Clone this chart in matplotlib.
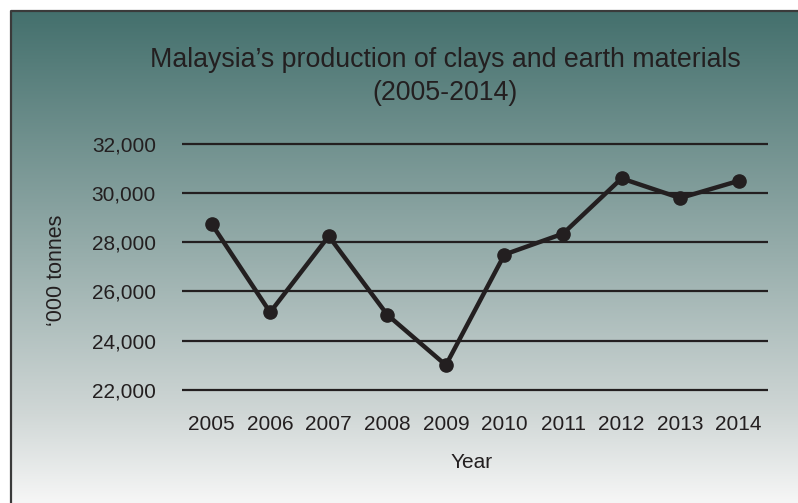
import numpy as np
import matplotlib
matplotlib.use("Agg")
import matplotlib.pyplot as plt
from matplotlib.colors import LinearSegmentedColormap

# Production of clays and earth materials, thousand tonnes
years = ["2005", "2006", "2007", "2008", "2009", "2010", "2011", "2012", "2013", "2014"]
production = [28750, 25150, 28250, 25050, 23000, 27500, 28350, 30600, 29800, 30500]
y_ticks = [22000, 24000, 26000, 28000, 30000, 32000]

title_lines = ["Malaysia\u2019s production of clays and earth materials", "(2005-2014)"]
x_label = "Year"
y_label = "\u2018000 tonnes"

ink = "#231f20"
plt.rcParams["font.family"] = ["Liberation Sans", "DejaVu Sans"]

W, H = 798, 503
fig = plt.figure(figsize=(W / 100, H / 100), dpi=100)
fig.patch.set_facecolor("white")

# gradient panel behind everything
bg = fig.add_axes([0, 0, 1, 1], zorder=-10)
bg.set_xlim(0, W)
bg.set_ylim(H, 0)
bg.axis("off")
grad = np.linspace(0, 1, 256).reshape(-1, 1)
cmap = LinearSegmentedColormap.from_list(
    "teal_fade", [(0.0, "#44706d"), (0.5, "#98aeac"), (0.82, "#d0d7d6"), (1.0, "#f6f6f6")])
x0, y0 = 11, 11
bg.imshow(grad, cmap=cmap, aspect="auto", extent=(x0, W, H, y0), interpolation="bicubic")
bg.plot([x0, x0, W], [H, y0, y0], color="#3a3a3a", lw=1.6, solid_capstyle="butt")

# main plot area
ax_left, ax_right = 182.3, 768.0
ax_top, ax_bottom = 144.0, 389.7
ax = fig.add_axes([ax_left / W, 1 - ax_bottom / H, (ax_right - ax_left) / W, (ax_bottom - ax_top) / H])
ax.patch.set_alpha(0)
x = np.arange(len(years))
ax.set_xlim(-0.5, len(years) - 0.5)
ax.set_ylim(y_ticks[0], y_ticks[-1])
for s in ax.spines.values():
    s.set_visible(False)

ax.hlines(y_ticks, -0.5, len(years) - 0.5, colors=ink, lw=1.6, clip_on=False, zorder=1)
ax.plot(x, production, color=ink, lw=3.2, marker="o", markersize=9.5,
        markerfacecolor=ink, markeredgecolor=ink, zorder=3, clip_on=False)

ax.set_xticks(x)
ax.set_xticklabels(years)
ax.set_yticks(y_ticks)
ax.set_yticklabels([f"{v:,}" for v in y_ticks])
ax.tick_params(axis="both", length=0, labelsize=15, labelcolor=ink)
ax.tick_params(axis="x", pad=18)
ax.tick_params(axis="y", pad=19)

fig.text(472 / W, 1 - 463 / H, x_label, ha="center", va="center", fontsize=15, color=ink)
fig.text(56 / W, 1 - 270 / H, y_label, ha="center", va="center", rotation=90, fontsize=15.5, color=ink)

fig.text(445 / W, 1 - 60 / H, title_lines[0], ha="center", va="center", fontsize=19.3, color=ink)
fig.text(445 / W, 1 - 93 / H, title_lines[1], ha="center", va="center", fontsize=19.3, color=ink)

fig.savefig("out.png", dpi=100)
